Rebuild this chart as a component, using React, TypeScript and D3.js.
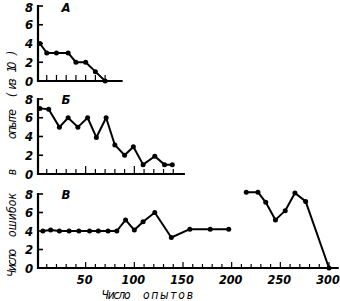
import React from "react";
import * as d3 from "d3";

// Trials (x) and errors out of 10 (y) for the three conditions
const trialsA = [3, 10, 20, 32, 40, 50, 60, 70];
const errorsA = [4, 3, 3, 3, 2, 2, 1, 0];

const trialsB = [3, 12, 23, 32, 42, 52, 61, 71, 80, 90, 99, 109, 121, 131, 139];
const errorsB = [7, 6.9, 5, 6, 5, 6, 3.9, 6, 3.1, 2, 2.9, 1, 1.9, 1, 1];

const trialsC1 = [6, 14, 23, 33, 43, 54, 63, 73, 82, 91, 100, 109, 121, 138, 157, 178, 197];
const errorsC1 = [4, 4.1, 4, 4, 4, 4, 4, 4, 4, 5.2, 4.1, 5, 6, 3.3, 4.2, 4.2, 4.2];
const trialsC2 = [215, 227, 235, 245, 255, 265, 276, 300];
const errorsC2 = [8.2, 8.2, 7.1, 5.2, 6.2, 8.1, 7.2, 0];

const panelLetters = ["А", "Б", "В"];
const yTicks = [0, 2, 4, 6, 8];
const xTickLabels = [50, 100, 150, 200, 250, 300];

const FONT = "'Liberation Sans Narrow', 'DejaVu Sans Condensed', 'DejaVu Sans', sans-serif";

const x = d3.scaleLinear().domain([0, 300]).range([37, 329]);

type Panel = {
  letter: string;
  y0: number;
  y8: number;
  axisEnd: number;
  tickMax: number;
  minorH: number;
  majorH: number;
  series: { xs: number[]; ys: number[] }[];
};

const panels: Panel[] = [
  { letter: panelLetters[0], y0: 81, y8: 6, axisEnd: 88, tickMax: 70, minorH: 6, majorH: 6, series: [{ xs: trialsA, ys: errorsA }] },
  { letter: panelLetters[1], y0: 174, y8: 99, axisEnd: 152, tickMax: 140, minorH: 5, majorH: 8, series: [{ xs: trialsB, ys: errorsB }] },
  {
    letter: panelLetters[2], y0: 268, y8: 194, axisEnd: 310, tickMax: 300, minorH: 4, majorH: 6,
    series: [{ xs: trialsC1, ys: errorsC1 }, { xs: trialsC2, ys: errorsC2 }],
  },
];

function PanelView({ p }: { p: Panel }) {
  const y = d3.scaleLinear().domain([0, 8]).range([p.y0, p.y8]);
  const line = d3.line<[number, number]>().x((d) => x(d[0])).y((d) => y(d[1]));
  const ticks = d3.range(10, p.tickMax + 1, 10);
  const ax = x(0) + 1;
  return (
    <g>
      {/* y axis */}
      <line x1={ax} x2={ax} y1={y(8) - 1} y2={p.y0 + 1} stroke="#000" strokeWidth={2.2} />
      {yTicks.slice(1).map((t) => (
        <line key={t} x1={ax} x2={ax + 5} y1={y(t)} y2={y(t)} stroke="#000" strokeWidth={1.6} />
      ))}
      {yTicks.map((t) => (
        <text key={t} x={29} y={Math.max(y(t), 7)} dy="0.36em" textAnchor="middle" fontFamily={FONT}
          fontStyle="italic" fontWeight="bold" fontSize={13}>{t}</text>
      ))}
      {/* x axis */}
      <line x1={ax - 1} x2={x(p.axisEnd)} y1={p.y0} y2={p.y0} stroke="#000" strokeWidth={2.2} />
      {ticks.map((t) => (
        <line key={t} x1={x(t)} x2={x(t)} y1={p.y0} y2={p.y0 - (t % 50 === 0 ? p.majorH : p.minorH)}
          stroke="#000" strokeWidth={1.2} />
      ))}
      <text x={66} y={Math.max(p.y8 + 5, 12)} textAnchor="middle" fontFamily={FONT} fontStyle="italic"
        fontWeight="bold" fontSize={13}>{p.letter}</text>
      {p.series.map((s, i) => {
        const pts = s.xs.map((v, k) => [v, s.ys[k]] as [number, number]);
        return (
          <g key={i}>
            <path d={line(pts) ?? ""} fill="none" stroke="#000" strokeWidth={2} strokeLinejoin="round" />
            {pts.map((d, k) => (
              <circle key={k} cx={x(d[0])} cy={y(d[1])} r={2.5} fill="#000" />
            ))}
          </g>
        );
      })}
    </g>
  );
}

// Rotated y title, word by word along the left edge
const yTitleWords: { w: string; c: number; len: number }[] = [
  { w: "Число", c: 263, len: 28 },
  { w: "ошибок", c: 215, len: 44 },
  { w: "в", c: 172, len: 7 },
  { w: "опыте", c: 124, len: 30 },
  { w: "(", c: 95, len: 4 },
  { w: "из", c: 84, len: 11 },
  { w: "10", c: 67, len: 11 },
  { w: ")", c: 53, len: 4 },
];

export default function App() {
  return (
    <svg width={340} height={301} style={{ position: "absolute", left: 0, top: 0, background: "#fff" }}>
      {panels.map((p) => (
        <PanelView key={p.letter} p={p} />
      ))}
      {xTickLabels.map((t) => (
        <text key={t} x={x(t) - 1} y={279} dy="0.36em" textAnchor="middle" fontFamily={FONT}
          fontStyle="italic" fontWeight="bold" fontSize={12.5}>{t}</text>
      ))}
      <text x={116} y={298.5} textAnchor="middle" fontFamily={FONT} fontStyle="italic"
        fontSize={12} textLength={29} lengthAdjust="spacing">Число</text>
      <text x={168} y={298.5} textAnchor="middle" fontFamily={FONT} fontStyle="italic"
        fontSize={12} textLength={50} lengthAdjust="spacing">опытов</text>
      {yTitleWords.map((d) => (
        <text key={d.w + d.c} transform={`translate(16,${d.c}) rotate(-90)`} textAnchor="middle"
          fontFamily={FONT} fontStyle="italic" fontSize={12} textLength={d.len}
          lengthAdjust="spacing">
          {d.w}
        </text>
      ))}
    </svg>
  );
}
